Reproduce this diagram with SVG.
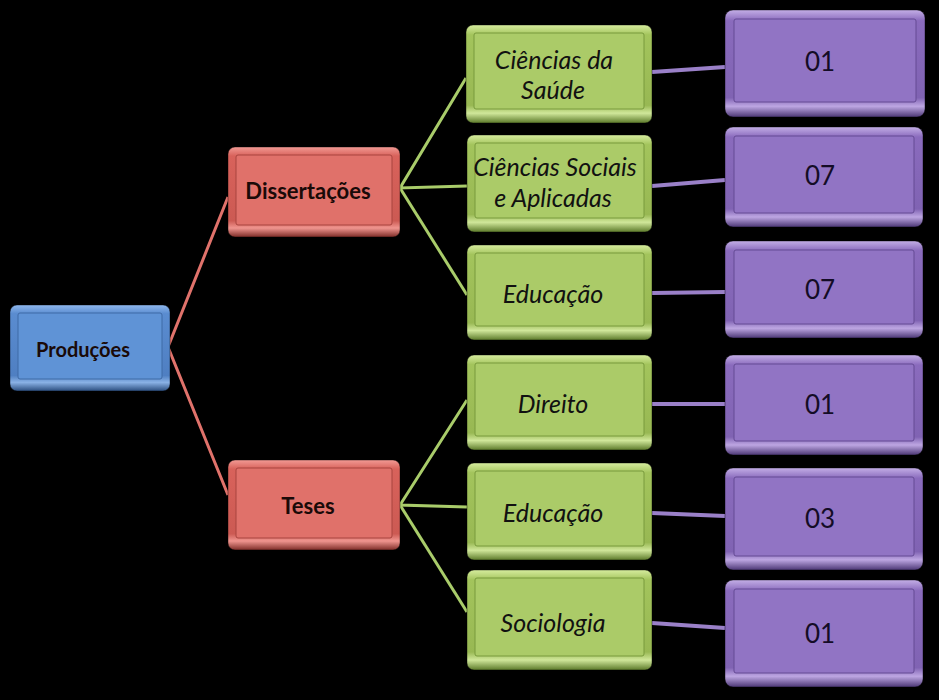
<svg xmlns="http://www.w3.org/2000/svg" width="939" height="700" viewBox="0 0 939 700">
<defs>
<linearGradient id="gB" x1="0" y1="0" x2="0" y2="1">
<stop offset="0" stop-color="#8fb8ee"/><stop offset="0.1" stop-color="#5a8cd0"/><stop offset="0.82" stop-color="#4f7fc2"/><stop offset="0.9" stop-color="#8ab2e6"/><stop offset="1" stop-color="#2c4f80"/>
</linearGradient>
<linearGradient id="gR" x1="0" y1="0" x2="0" y2="1">
<stop offset="0" stop-color="#f29a94"/><stop offset="0.1" stop-color="#d8625b"/><stop offset="0.82" stop-color="#cc5a53"/><stop offset="0.9" stop-color="#f0958f"/><stop offset="1" stop-color="#7e2d28"/>
</linearGradient>
<linearGradient id="gG" x1="0" y1="0" x2="0" y2="1">
<stop offset="0" stop-color="#d6ec9e"/><stop offset="0.1" stop-color="#a3c45c"/><stop offset="0.82" stop-color="#98b853"/><stop offset="0.9" stop-color="#d0e79a"/><stop offset="1" stop-color="#5c7a2a"/>
</linearGradient>
<linearGradient id="gP" x1="0" y1="0" x2="0" y2="1">
<stop offset="0" stop-color="#c3aee6"/><stop offset="0.1" stop-color="#8a6bbd"/><stop offset="0.82" stop-color="#8063b3"/><stop offset="0.9" stop-color="#bda6e2"/><stop offset="1" stop-color="#4c3775"/>
</linearGradient>
</defs>
<style>
.o{stroke:#000;stroke-opacity:0.4;stroke-width:1}
.fb{fill:#5f93d6;stroke:#3f6aa6;stroke-width:1}
.fr{fill:#e0716a;stroke:#a8443e;stroke-width:1}
.fg{fill:#abcb68;stroke:#789a3c;stroke-width:1}
.fp{fill:#9174c4;stroke:#654a94;stroke-width:1}
.lb{font-family:Lato,"Open Sans",sans-serif;font-weight:bold;font-size:22px;fill:#1a0a08;text-anchor:middle;dominant-baseline:central}
.li{font-family:Lato,"Open Sans",sans-serif;font-style:italic;font-size:25px;fill:#111;text-anchor:middle;dominant-baseline:central}
.ln{font-family:Lato,"Open Sans",sans-serif;font-size:26px;fill:#140c26;text-anchor:middle;dominant-baseline:central}
.cr{stroke:#e0726b;stroke-width:3;fill:none}
.cg{stroke:#a9cc6a;stroke-width:3;fill:none}
.cp{stroke:#9a80c8;stroke-width:4;fill:none}
</style>
<rect width="939" height="700" fill="#000"/>
<g id="connectors">
<polyline class="cr" points="228,197 168,347 228,495"/>
<polyline class="cg" points="466,78 400,188 467,186"/>
<line class="cg" x1="400" y1="188" x2="467" y2="295"/>
<polyline class="cg" points="467,400 400,505 467,507"/>
<line class="cg" x1="400" y1="505" x2="467" y2="612"/>
<line class="cp" x1="652" y1="72" x2="725" y2="67"/>
<line class="cp" x1="652" y1="186" x2="725" y2="180"/>
<line class="cp" x1="652" y1="293" x2="725" y2="292"/>
<line class="cp" x1="652" y1="404" x2="725" y2="404"/>
<line class="cp" x1="652" y1="513" x2="725" y2="516"/>
<line class="cp" x1="652" y1="623" x2="725" y2="628"/>
</g>
<g id="producoes">
<rect class="o" x="10" y="305" width="160" height="86" rx="7" fill="url(#gB)"/>
<rect class="fb" x="18" y="313" width="144" height="66" rx="2"/>
<text class="lb" x="83" y="349" style="font-size:20px">Produções</text>
</g>
<g id="dissertacoes">
<rect class="o" x="228" y="147" width="172" height="90" rx="7" fill="url(#gR)"/>
<rect class="fr" x="236" y="155" width="156" height="70" rx="2"/>
<text class="lb" x="308" y="190">Dissertações</text>
</g>
<g id="teses">
<rect class="o" x="228" y="460" width="172" height="90" rx="7" fill="url(#gR)"/>
<rect class="fr" x="236" y="468" width="156" height="70" rx="2"/>
<text class="lb" x="308" y="505">Teses</text>
</g>
<g id="ciencias-saude">
<rect class="o" x="466" y="25" width="186" height="98" rx="7" fill="url(#gG)"/>
<rect class="fg" x="474" y="33" width="170" height="76" rx="2"/>
<text class="li" x="554" y="59">Ciências da</text>
<text class="li" x="553" y="89">Saúde</text>
</g>
<g id="ciencias-sociais">
<rect class="o" x="467" y="135" width="185" height="97" rx="7" fill="url(#gG)"/>
<rect class="fg" x="475" y="143" width="169" height="75" rx="2"/>
<text class="li" x="555" y="166">Ciências Sociais</text>
<text class="li" x="553" y="197">e Aplicadas</text>
</g>
<g id="educacao-d">
<rect class="o" x="467" y="245" width="185" height="95" rx="7" fill="url(#gG)"/>
<rect class="fg" x="475" y="253" width="169" height="73" rx="2"/>
<text class="li" x="553" y="293">Educação</text>
</g>
<g id="direito">
<rect class="o" x="467" y="355" width="185" height="95" rx="7" fill="url(#gG)"/>
<rect class="fg" x="475" y="363" width="169" height="73" rx="2"/>
<text class="li" x="553" y="403">Direito</text>
</g>
<g id="educacao-t">
<rect class="o" x="467" y="463" width="185" height="97" rx="7" fill="url(#gG)"/>
<rect class="fg" x="475" y="471" width="169" height="75" rx="2"/>
<text class="li" x="553" y="512">Educação</text>
</g>
<g id="sociologia">
<rect class="o" x="467" y="570" width="185" height="100" rx="7" fill="url(#gG)"/>
<rect class="fg" x="475" y="578" width="169" height="78" rx="2"/>
<text class="li" x="553" y="622">Sociologia</text>
</g>
<g id="n1">
<rect class="o" x="725" y="10" width="200" height="107" rx="8" fill="url(#gP)"/>
<rect class="fp" x="734" y="19" width="182" height="83" rx="2"/>
<text class="ln" x="820" y="61">01</text>
</g>
<g id="n2">
<rect class="o" x="725" y="127" width="198" height="100" rx="8" fill="url(#gP)"/>
<rect class="fp" x="734" y="136" width="180" height="77" rx="2"/>
<text class="ln" x="820" y="175">07</text>
</g>
<g id="n3">
<rect class="o" x="725" y="241" width="198" height="97" rx="8" fill="url(#gP)"/>
<rect class="fp" x="734" y="250" width="180" height="74" rx="2"/>
<text class="ln" x="820" y="289">07</text>
</g>
<g id="n4">
<rect class="o" x="725" y="355" width="198" height="100" rx="8" fill="url(#gP)"/>
<rect class="fp" x="734" y="364" width="180" height="77" rx="2"/>
<text class="ln" x="820" y="404">01</text>
</g>
<g id="n5">
<rect class="o" x="725" y="468" width="198" height="102" rx="8" fill="url(#gP)"/>
<rect class="fp" x="734" y="477" width="180" height="79" rx="2"/>
<text class="ln" x="820" y="518">03</text>
</g>
<g id="n6">
<rect class="o" x="725" y="580" width="198" height="107" rx="8" fill="url(#gP)"/>
<rect class="fp" x="734" y="589" width="180" height="84" rx="2"/>
<text class="ln" x="820" y="633">01</text>
</g>
</svg>
